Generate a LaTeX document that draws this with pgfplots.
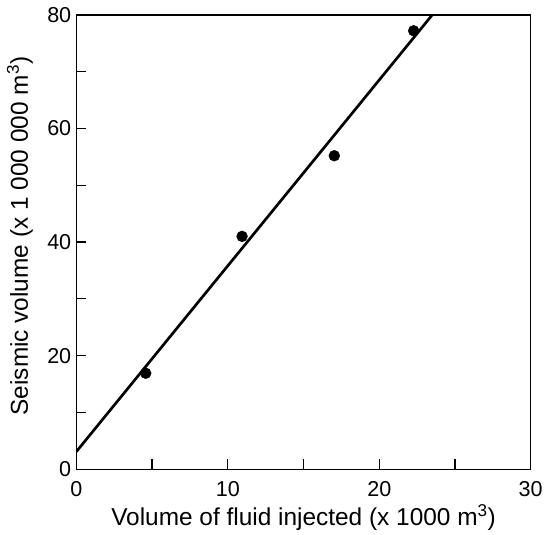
\documentclass[border=0pt]{standalone}
\usepackage{fontspec}
\setmainfont{Liberation Sans}
\usepackage{pgfplots}
\pgfplotsset{compat=1.18}
\begin{document}
\begin{tikzpicture}
\begin{axis}[
  scale only axis,
  width=458bp, height=458bp,
  xmin=0, xmax=30, ymin=0, ymax=80,
  xtick={0,10,20,30}, ytick={0,20,40,60,80},
  minor xtick={5,15,25}, minor ytick={10,30,50,70},
  xtick pos=left, ytick pos=left,
  tick align=inside,
  major tick length=10bp, minor tick length=10bp,
  every tick/.style={black, line width=1.3bp},
  axis line style={line width=1.3bp},
  /pgf/number format/assume math mode=true,
  tick label style={font=\fontsize{21.8}{25}\selectfont},
  xticklabel style={anchor=base, yshift=-28bp},
  yticklabel style={anchor=east, inner sep=0pt, xshift=-5bp},
  label style={font=\fontsize{24.7}{28}\selectfont},
  xlabel={Volume of fluid injected (x 1000 m\textsuperscript{3})},
  ylabel={Seismic volume (x 1 000 000 m\textsuperscript{3})},
  xlabel style={at={(axis description cs:0.5,0)}, anchor=base, yshift=-57bp},
  ylabel style={at={([xshift=-49bp,yshift=6bp]axis description cs:0,0.5)}, anchor=base},
  clip=true,
]
\addplot[black, line width=2.7bp] coordinates {(0,3.1) (23.5,80)};
\addplot[only marks, mark=*, mark size=5.5bp, black] coordinates {
  (4.58,16.9) (10.94,41.0) (17.03,55.2) (22.27,77.2)
};
\coordinate (ll) at (rel axis cs:0,0);
\coordinate (ur) at (rel axis cs:1,1);
\end{axis}
\path ([shift={(-77bp,-63bp)}]ll) rectangle ([shift={(11bp,15bp)}]ur);
\end{tikzpicture}
\end{document}
